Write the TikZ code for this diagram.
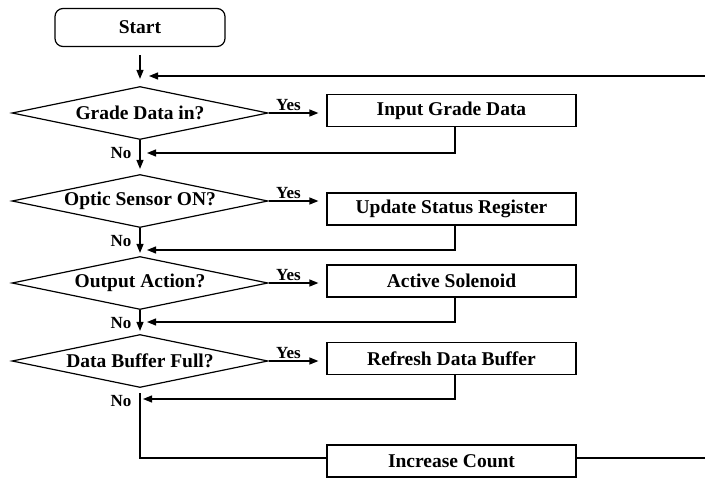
\documentclass[tikz,border=0pt]{standalone}
\usepackage{fontspec}
\setmainfont{Liberation Serif}
\usetikzlibrary{shapes.geometric,arrows.meta,calc}

\begin{document}
\begin{tikzpicture}[x=1pt,y=-1pt,
  line width=1.2pt,
  every node/.style={font=\bfseries\fontsize{19.5}{22}\selectfont},
  startbox/.style={draw, rounded corners=8pt, minimum width=170pt, minimum height=38pt, inner sep=0pt},
  decision/.style={draw, diamond, aspect=4.8, minimum width=256pt, minimum height=53pt, inner sep=0pt},
  process/.style={draw, rectangle, minimum width=249pt, minimum height=32pt, inner sep=0pt},
  arrow/.style={-{Triangle[length=9pt,width=7pt]}},
  tag/.style={font=\bfseries\fontsize{17}{19}\selectfont, inner sep=0pt},
]
\useasboundingbox (0,0) rectangle (705,479);

% main column
\node[startbox] (start) at (140,27.5) {Start};
\node[decision] (d1) at (140,113) {Grade Data in?};
\node[decision] (d2) at (140,201) {Optic Sensor ON?};
\node[decision] (d3) at (140,283) {Output Action?};
\node[decision] (d4) at (140,361) {Data Buffer Full?};

% actions
\node[process] (b1) at (451.5,110.5) {Input Grade Data};
\node[process] (b2) at (451.5,209) {Update Status Register};
\node[process] (b3) at (451.5,281) {Active Solenoid};
\node[process] (b4) at (451.5,358.5) {Refresh Data Buffer};
\node[process] (b5) at (451.5,461) {Increase Count};

% junction points
\coordinate (e1) at (705,76);
\coordinate (m0) at (140,76);
\coordinate (r1) at (140,153);
\coordinate (r2) at (140,250);
\coordinate (r3) at (140,322);
\coordinate (r4) at (140,399);
\coordinate (j4) at (140,393);
\coordinate (e2) at (705,458);

% entry and loop back
\draw[arrow, shorten <=8pt, shorten >=7pt] (start.south) -- (d1.north);
\draw[arrow, shorten >=9pt] (e1) -- (m0);

% yes branches
\foreach \i in {1,2,3,4}{
  \draw[arrow, shorten >=8pt] (d\i.east) -- (d\i.east -| b\i.west);
  \node[tag, anchor=base west] (y\i) at ([xshift=7pt,yshift=3pt]d\i.east) {Yes};
}

% no branches
\draw[arrow, shorten >=5pt] (d1.south) -- (d2.north);
\draw[arrow, shorten >=3pt] (d2.south) -- (d3.north);
\draw[arrow, shorten >=3pt] (d3.south) -- (d4.north);
\foreach \i in {1,2,3,4}{
  \node[tag, anchor=east] (n\i) at ([xshift=-8pt,yshift=-13pt]d\i.south) {No};
}

% returns from the action boxes
\draw[arrow, shorten >=7pt] ([xshift=3.5pt]b1.south) |- (r1);
\draw[arrow, shorten >=7pt] ([xshift=3.5pt]b2.south) |- (r2);
\draw[arrow, shorten >=7pt] ([xshift=3.5pt]b3.south) |- (r3);
\draw[arrow, shorten >=3pt] ([xshift=3.5pt]b4.south) |- (r4);

% counting step
\draw (j4) |- ([yshift=3pt]b5.west);
\draw ([yshift=3pt]b5.east) -- (e2);
\end{tikzpicture}
\end{document}
